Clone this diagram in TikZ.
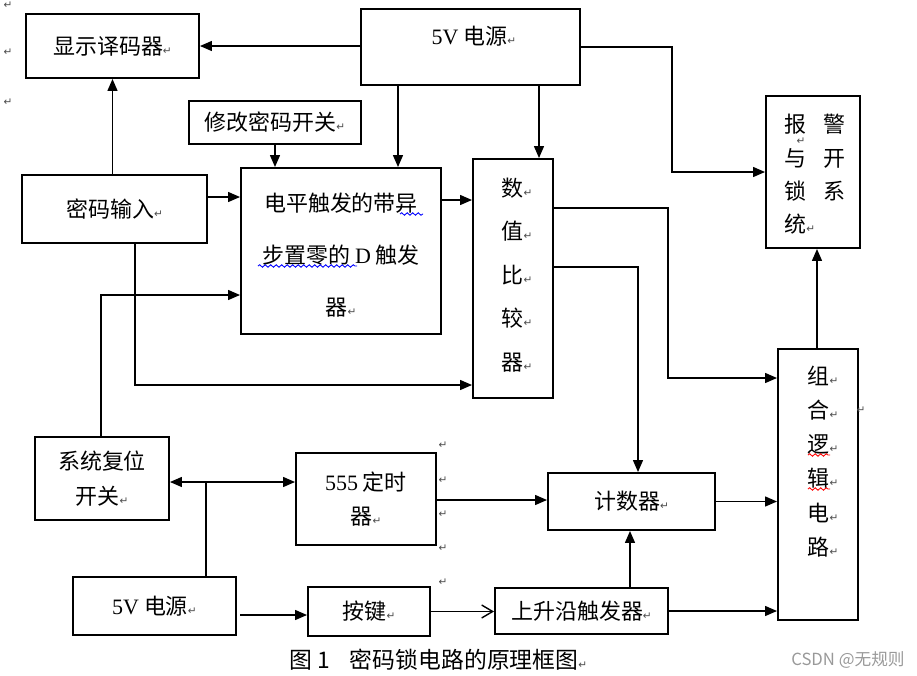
\documentclass[tikz,border=0pt]{standalone}
\usepackage{fontspec}
\setmainfont{Noto Sans CJK SC}
\newfontfamily\lat{Liberation Serif}
\newfontfamily\sym{DejaVu Sans}
\usepackage{tikz}
\usetikzlibrary{arrows.meta}
\usetikzlibrary{calc}
\usetikzlibrary{decorations.pathmorphing}
\newcommand{\pmk}{{\sym\fontsize{6}{6}\selectfont\color{black!70}↵}}

\begin{document}
\begin{tikzpicture}[x=0.2mm, y=-0.2mm,
        box/.style={draw, line width=1.1pt, inner sep=0pt},
        txt/.style={font=\fontsize{12.5}{15}\selectfont, inner sep=0pt},
        pm/.style={inner sep=0pt},
        arr/.style={line width=0.8pt, -{Triangle[length=2.4mm,width=2mm]}},
        oarr/.style={line width=0.8pt, -{Straight Barb[length=2.2mm,width=2.6mm]}},
        wave/.style={decorate, decoration={snake, amplitude=0.25mm, segment length=1.1mm}, line width=0.5pt}]
    \useasboundingbox (0,0) rectangle (917,676);
    % upper part
    \node[box, txt, minimum width=34.6mm, minimum height=12.8mm] (disp) at (112.5,46) {显示译码器\pmk};
    \node[box, minimum width=43.8mm, minimum height=15.2mm] (pwrtop) at (470.5,47) {};
    \node[txt] (pwrtoptxt) at (474,36) {{\lat 5V} 电源\pmk};
    \node[box, txt, minimum width=34.4mm, minimum height=8.6mm] (modsw) at (275,122.5) {修改密码开关\pmk};
    \node[box, txt, minimum width=37mm, minimum height=13.6mm] (pwdin) at (114.5,209) {密码输入\pmk};
    \node[box, minimum width=40mm, minimum height=33.2mm] (dff) at (341,251) {};
    \node[txt, align=center, font=\fontsize{12.5}{29.6}\selectfont] (dfftxt) at (341,255) {电平触发的带异\\步置零的 {\lat D} 触发\\器\pmk};
    \node[box, minimum width=16mm, minimum height=47.8mm] (cmp) at (513,278.5) {};
    \node[txt, align=center, font=\fontsize{12.5}{24.7}\selectfont] (cmptxt) at (517,275) {数\pmk\\值\pmk\\比\pmk\\较\pmk\\器\pmk};
    \node[box, minimum width=18.8mm, minimum height=30.4mm] (alarm) at (813,172) {};
    \node[txt, align=left, anchor=north west, font=\fontsize{12.5}{18.9}\selectfont] (alarmtxt) at (784,114) {报\hspace{3.4mm}警\\与\hspace{3.4mm}开\\锁\hspace{3.4mm}系\\统\pmk};
    \node[box, minimum width=16mm, minimum height=54.2mm] (logic) at (818,484.5) {};
    \node[txt, align=center, font=\fontsize{12.5}{19.4}\selectfont] (logictxt) at (823,461.5) {组\pmk\\合\pmk\\逻\pmk\\辑\pmk\\电\pmk\\路\pmk};
    % lower part
    \node[box, txt, align=center, font=\fontsize{12.5}{19.8}\selectfont, minimum width=26.8mm, minimum height=16.6mm] (reset) at (102,478.5) {系统复位\\开关\pmk};
    \node[box, txt, align=center, font=\fontsize{12.5}{19.2}\selectfont, minimum width=28mm, minimum height=18.4mm] (timer) at (366,499) {{\lat 555} 定时\\器\pmk};
    \node[box, txt, minimum width=33.4mm, minimum height=11.4mm] (counter) at (631.5,501.5) {计数器\pmk};
    \node[box, txt, minimum width=32.6mm, minimum height=11.6mm] (pwrbot) at (154.5,606) {{\lat 5V} 电源\pmk};
    \node[box, txt, minimum width=24.4mm, minimum height=9.8mm] (key) at (369,611.5) {按键\pmk};
    \node[box, txt, minimum width=34.6mm, minimum height=9.2mm] (edge) at (581.5,611) {上升沿触发器\pmk};
    \node[anchor=west, inner sep=0pt, font=\fontsize{13}{15}\selectfont] (cap) at (289,660) {图 1\hspace{4mm}密码锁电路的原理框图\pmk};
    \node[anchor=east, inner sep=0pt, text=black!40, font=\fontsize{9.5}{11}\selectfont] (mark) at (905,660) {CSDN @无规则};
    % stray paragraph marks
    \foreach \y in {5,52,102} {
        \node[pm] at (8,\y) {\pmk};
    }
    \foreach \y in {445,480,514,548,582} {
        \node[pm] at (443,\y) {\pmk};
    }
    \node[pm] at (861,410) {\pmk};
    \node[pm] at (801,141) {\pmk};
    % wavy underlines
    \draw[wave, blue] (400,214) -- (423,214);
    \draw[wave, blue] (258,266) -- (357,266);
    \draw[wave, red] (808,455) -- (830,455);
    \draw[wave, red] (808,489) -- (830,489);
    % connectors
    \coordinate (jn) at (206,482);
    \draw[arr] (pwrtop.west |- disp.east) -- (disp.east);
    \draw[arr] (disp.south |- pwdin.north) -- (disp.south);
    \draw[arr] (modsw.south) -- (modsw.south |- dff.north);
    \draw[arr] (398,0 |- pwrtop.south) -- (398,0 |- dff.north);
    \draw[arr] (539,0 |- pwrtop.south) -- (539,0 |- cmp.north);
    \draw[arr] (pwrtop.east) -| (672,172) -- (alarm.west);
    \draw[arr] (pwdin.east |- 0,197) -- (dff.west |- 0,197);
    \draw[arr] (dff.east |- 0,200) -- (cmp.west |- 0,200);
    \draw[arr] (135,0 |- pwdin.south) |- (cmp.west |- 0,385);
    \draw[arr] (101,0 |- reset.north) |- (dff.west |- 0,295);
    \draw[arr] (cmp.east |- 0,208) -| (668,378) -- (logic.west |- 0,378);
    \draw[arr] (cmp.east |- 0,267) -| (638,0 |- counter.north);
    \draw[arr] (logic.north -| 817,0) -- (817,0 |- alarm.south);
    \draw[line width=0.8pt] (jn |- pwrbot.north) -- (jn);
    \draw[arr] (jn) -- (reset.east |- jn);
    \draw[arr] (jn) -- (timer.west |- jn);
    \draw[arr] (timer.east |- 0,500) -- (counter.west |- 0,500);
    \draw[arr] (counter.east) -- (logic.west |- counter.east);
    \draw[arr] (630,0 |- edge.north) -- (630,0 |- counter.south);
    \draw[arr] (240,615) -- (key.west |- 0,615);
    \draw[oarr] (key.east) -- (edge.west |- key.east);
    \draw[arr] (edge.east) -- (logic.west |- edge.east);
\end{tikzpicture}
\end{document}
